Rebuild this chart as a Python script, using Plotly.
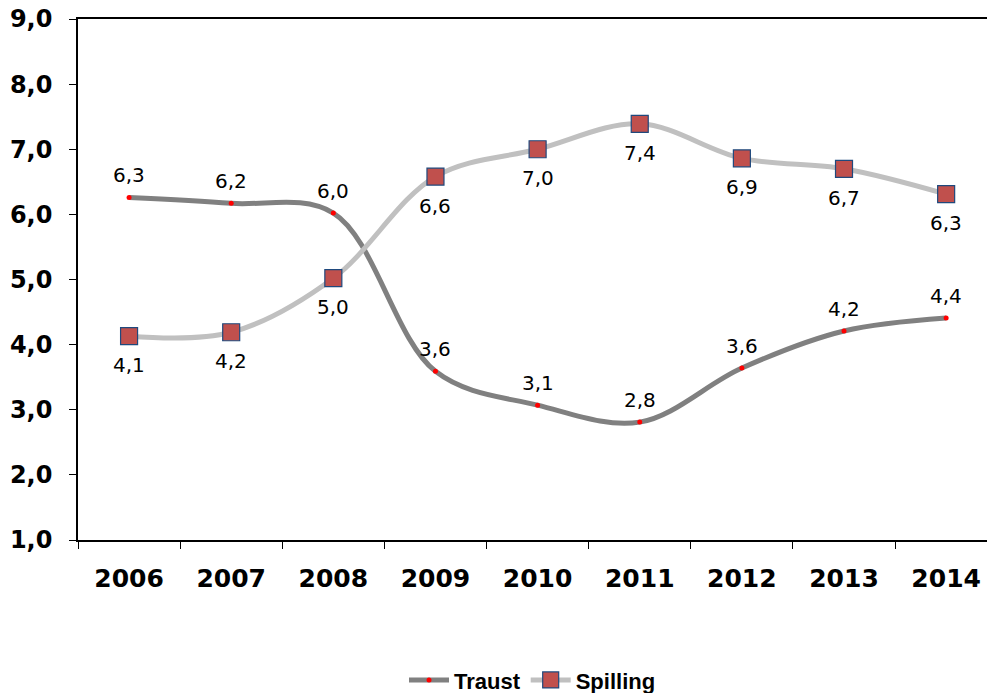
import plotly.graph_objects as go

years = ["2006", "2007", "2008", "2009", "2010", "2011", "2012", "2013", "2014"]
traust = [6.26, 6.17, 6.02, 3.59, 3.07, 2.81, 3.64, 4.21, 4.41]
spilling = [4.13, 4.19, 5.02, 6.58, 7.0, 7.39, 6.86, 6.70, 6.31]
y_ticks = [1, 2, 3, 4, 5, 6, 7, 8, 9]


def fmt(v):
    return f"{v:.1f}".replace(".", ",")


fig = go.Figure()
fig.add_trace(go.Scatter(
    x=years, y=traust, name="Traust", mode="lines+markers",
    line=dict(color="#808080", width=5, shape="spline"),
    marker=dict(color="#FF0000", size=5, symbol="circle"),
))
fig.add_trace(go.Scatter(
    x=years, y=spilling, name="Spilling", mode="lines+markers",
    line=dict(color="#C0C0C0", width=5, shape="spline"),
    marker=dict(color="#C0504D", size=17, symbol="square",
                line=dict(color="#1F497D", width=1.2)),
))

label_font = dict(family="DejaVu Sans", size=20, color="#000000")
for i, v in enumerate(traust):
    fig.add_annotation(x=i, y=v, text=fmt(v), showarrow=False, yanchor="middle",
                       yshift=22, font=label_font)
for i, v in enumerate(spilling):
    fig.add_annotation(x=i, y=v, text=fmt(v), showarrow=False, yanchor="middle",
                       yshift=-29, font=label_font)

fig.update_layout(
    width=987, height=693,
    margin=dict(l=78, r=0, t=19, b=153, autoexpand=False),
    paper_bgcolor="white", plot_bgcolor="white",
    separators=",.",
    showlegend=True,
    legend=dict(orientation="h", x=0.5, xanchor="center", y=-0.269, yanchor="middle",
                font=dict(family="Liberation Sans", size=22, color="#000000", weight="bold"),
                itemwidth=40, tracegroupgap=0),
)
fig.update_xaxes(
    type="category", range=[-0.5, 8.4], automargin=False,
    showline=True, linecolor="#000000", linewidth=1.5, mirror=True,
    ticks="outside", tickson="boundaries", ticklen=7, tickcolor="#000000",
    showgrid=False, ticklabelstandoff=15, ticklabeloverflow="allow",
    tickfont=dict(family="DejaVu Sans", size=25, color="#000000", weight="bold"),
)
fig.update_yaxes(
    range=[1, 9], tickvals=y_ticks, tickformat=".1f", automargin=False,
    showline=True, linecolor="#000000", linewidth=1.5,
    ticks="outside", ticklen=7, tickcolor="#000000",
    showgrid=False, zeroline=False, ticklabelstandoff=12, ticklabeloverflow="allow",
    tickfont=dict(family="DejaVu Sans", size=24, color="#000000", weight="bold"),
)

fig.write_html("out.html", config={"displayModeBar": False},
               post_script="document.body.style.margin='0';document.body.style.overflow='hidden';")
